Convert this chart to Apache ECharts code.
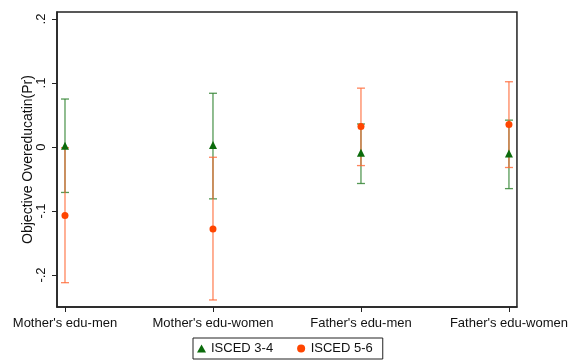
<!DOCTYPE html>
<html><head><meta charset="utf-8">
<script src="https://cdn.jsdelivr.net/npm/echarts@6/dist/echarts.min.js"></script>
<style>html,body{margin:0;padding:0;background:#fff}#c{width:571px;height:363px}</style>
</head><body><div id="c"></div>
<script>
const categories = ["Mother's edu-men", "Mother's edu-women", "Father's edu-men", "Father's edu-women"];
const yTicks = [-0.2, -0.1, 0, 0.1, 0.2];
const isced34 = [0.002, 0.003, -0.009, -0.010];
const isced34Low = [-0.071, -0.081, -0.057, -0.065];
const isced34High = [0.075, 0.084, 0.036, 0.042];
const isced56 = [-0.107, -0.128, 0.032, 0.035];
const isced56Low = [-0.212, -0.239, -0.029, -0.032];
const isced56High = [-0.001, -0.016, 0.092, 0.102];

const xs = categories.map((c, i) => i + 1);
function fmt(v) {
  if (Math.abs(v) < 1e-9) return '0';
  let s = (Math.round(v * 10) / 10).toString();
  return s.replace('0.', '.');
}
function errSeries(name, low, high, color) {
  return {
    type: 'custom', name: name + ' CI', silent: true, z: 2,
    data: xs.map((x, i) => [x, low[i], high[i]]),
    renderItem: function (params, api) {
      const lo = api.coord([api.value(0), api.value(1)]);
      const hi = api.coord([api.value(0), api.value(2)]);
      const w = 4;
      const st = { stroke: color, lineWidth: 1.3, opacity: 0.8 };
      return { type: 'group', children: [
        { type: 'line', shape: { x1: lo[0], y1: lo[1], x2: hi[0], y2: hi[1] }, style: st },
        { type: 'line', shape: { x1: lo[0] - w, y1: lo[1], x2: lo[0] + w, y2: lo[1] }, style: st },
        { type: 'line', shape: { x1: hi[0] - w, y1: hi[1], x2: hi[0] + w, y2: hi[1] }, style: st }
      ]};
    }
  };
}
const chart = echarts.init(document.getElementById('c'), null, { renderer: 'canvas' });
chart.setOption({
  animation: false,
  textStyle: { fontFamily: 'Liberation Sans, Arial, sans-serif' },
  grid: { left: 57, right: 54, top: 12, bottom: 56, show: true, borderColor: '#222', borderWidth: 1.5 },
  xAxis: {
    type: 'value', min: 0.946, max: 4.054,
    splitLine: { show: false },
    axisLine: { show: true, onZero: false, lineStyle: { color: '#222', width: 1.5 } },
    axisTick: { show: true, customValues: xs, length: 5, lineStyle: { color: '#222' } },
    axisLabel: { customValues: xs, formatter: v => categories[Math.round(v) - 1], color: '#111', fontSize: 13, margin: 10 }
  },
  yAxis: {
    type: 'value', min: -0.25, max: 0.211,
    name: 'Objective Overeducatin(Pr)', nameLocation: 'middle', nameGap: 22, nameMoveOverlap: false,
    nameTextStyle: { color: '#111', fontSize: 14 },
    splitLine: { show: false },
    axisLine: { show: true, onZero: false, lineStyle: { color: '#222', width: 1.5 } },
    axisTick: { show: true, customValues: yTicks, length: 5, lineStyle: { color: '#222' } },
    axisLabel: { customValues: yTicks, formatter: fmt, rotate: 90, color: '#111', fontSize: 13, margin: 9 }
  },
  legend: {
    left: 193, top: 338, width: 192, itemGap: 24, itemWidth: 9, itemHeight: 8,
    borderColor: '#222', borderWidth: 1, padding: [4, 10, 4, 4],
    textStyle: { fontSize: 13, color: '#111' },
    data: [{ name: 'ISCED 3-4', icon: 'triangle' }, { name: 'ISCED 5-6', icon: 'circle' }]
  },
  series: [
    errSeries('ISCED 3-4', isced34Low, isced34High, '#2a7f2a'),
    errSeries('ISCED 5-6', isced56Low, isced56High, '#ff6633'),
    { type: 'scatter', name: 'ISCED 3-4', symbol: 'triangle', symbolSize: 8, z: 4,
      itemStyle: { color: '#0b6b0b', opacity: 1 }, data: xs.map((x, i) => [x, isced34[i]]) },
    { type: 'scatter', name: 'ISCED 5-6', symbol: 'circle', symbolSize: 7, z: 5,
      itemStyle: { color: '#ff4500', opacity: 1 }, data: xs.map((x, i) => [x, isced56[i]]) }
  ]
});
</script></body></html>
